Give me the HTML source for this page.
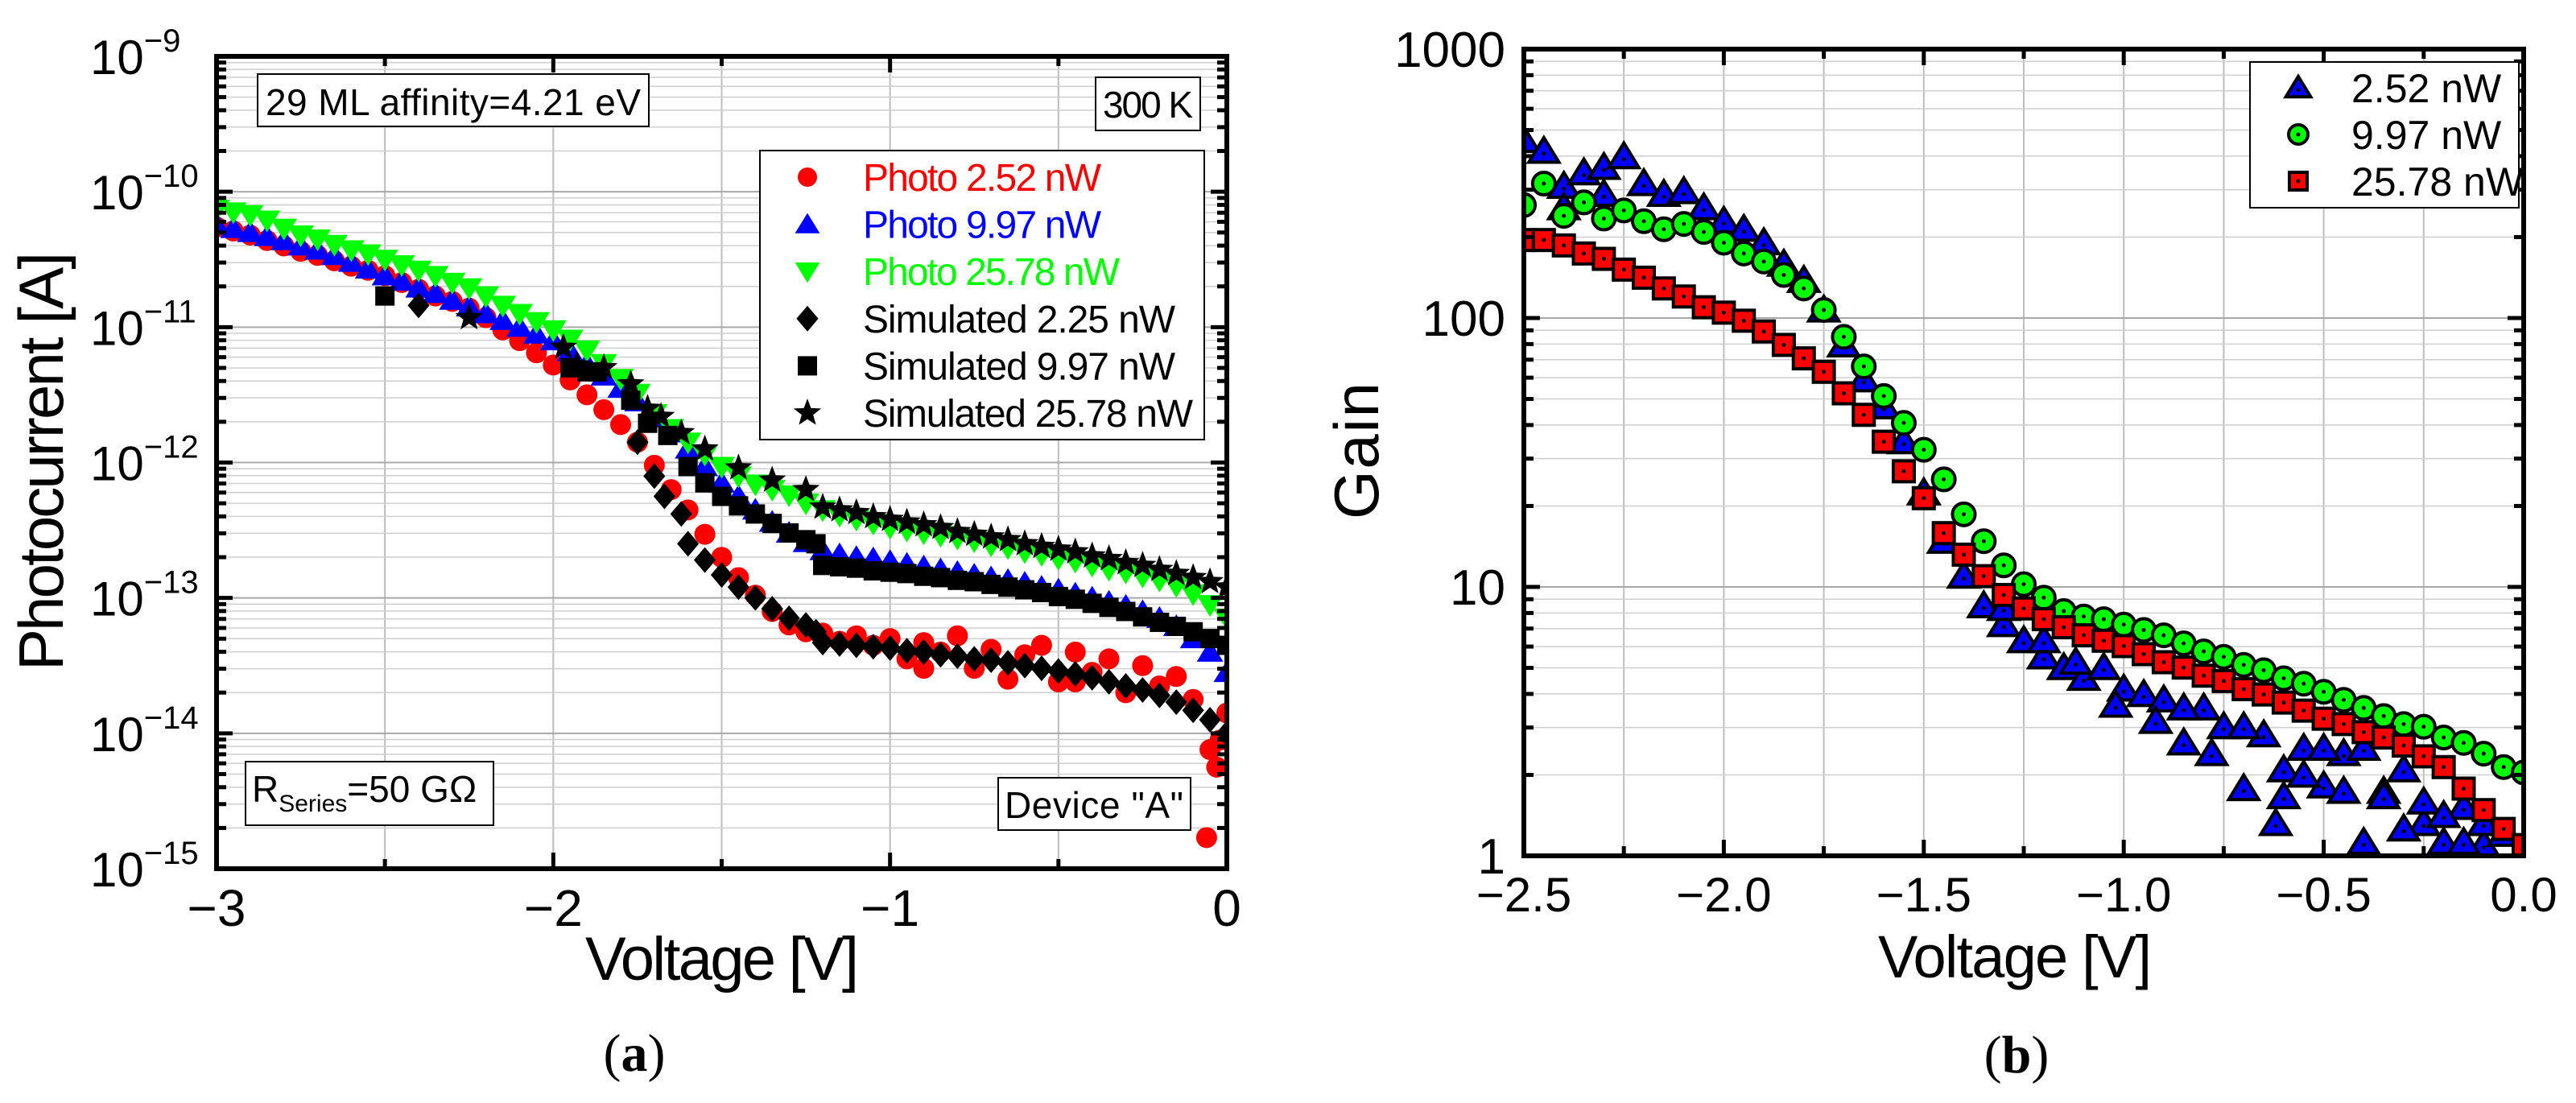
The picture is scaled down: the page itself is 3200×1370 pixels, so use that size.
<!DOCTYPE html>
<html><head><meta charset="utf-8"><style>
html,body{margin:0;padding:0;background:#fff;}
svg{display:block;font-family:"Liberation Sans",Arial,sans-serif;}
</style></head><body>
<svg id="fig" width="3200" height="1370" viewBox="0 0 3200 1370" xmlns="http://www.w3.org/2000/svg">
<defs>
<clipPath id="clipA"><rect x="269" y="70" width="1255" height="1009"/></clipPath>
<clipPath id="clipB"><rect x="1893" y="61" width="1242" height="1002"/></clipPath>
</defs>
<g id="gridA"></g>
<g id="gridB"></g>
<g id="marksA" clip-path="url(#clipA)"></g>
<g id="marksB" clip-path="url(#clipB)"></g>
<g id="axesA"></g>
<g id="axesB"></g>

<g>
<rect x="320" y="92" width="486" height="65" fill="#fff" stroke="#000" stroke-width="2"/>
<text x="330" y="143" font-size="46" textLength="466">29 ML affinity=4.21 eV</text></g>
<g>
<rect x="1361" y="96" width="130" height="66" fill="#fff" stroke="#000" stroke-width="2"/>
<text x="1370" y="146" font-size="46" textLength="112">300 K</text></g>
<g>
<rect x="305" y="946" width="308" height="79" fill="#fff" stroke="#000" stroke-width="2"/>
<text x="313" y="996" font-size="46">R<tspan font-size="30" dy="12">Series</tspan><tspan dy="-12">=50 GΩ</tspan></text></g>
<g>
<rect x="1240" y="966" width="239" height="65" fill="#fff" stroke="#000" stroke-width="2"/>
<text x="1248" y="1016" font-size="46" textLength="222">Device "A"</text></g>
<g id="legendA">
<rect x="944" y="187" width="552" height="359" fill="#fff" stroke="#000" stroke-width="2"/>
</g>
<g id="legendB">
<rect x="2795" y="77" width="334" height="181" fill="#fff" stroke="#000" stroke-width="2"/>
</g>

<text x="0" y="0" font-size="78" text-anchor="middle" transform="translate(78,573) rotate(-90)" textLength="520">Photocurrent [A]</text>
<text x="897" y="1217" font-size="76" text-anchor="middle" textLength="340">Voltage [V]</text>
<text x="788" y="1330" font-size="66" text-anchor="middle" font-family="Liberation Serif, serif">(<tspan font-weight="bold">a</tspan>)</text>

<text x="0" y="0" font-size="78" text-anchor="middle" transform="translate(1712,560) rotate(-90)" textLength="170">Gain</text>
<text x="2503" y="1214" font-size="74" text-anchor="middle" textLength="340">Voltage [V]</text>
<text x="2505" y="1332" font-size="66" text-anchor="middle" font-family="Liberation Serif, serif">(<tspan font-weight="bold">b</tspan>)</text>
</svg>
<script>
const voltA = [-3,-2.95,-2.9,-2.85,-2.8,-2.75,-2.7,-2.65,-2.6,-2.55,-2.5,-2.45,-2.4,-2.35,-2.3,-2.25,-2.2,-2.15,-2.1,-2.05,-2,-1.95,-1.9,-1.85,-1.8,-1.75,-1.7,-1.65,-1.6,-1.55,-1.5,-1.45,-1.4,-1.35,-1.3,-1.25,-1.2,-1.15,-1.1,-1.05,-1,-0.95,-0.9,-0.85,-0.8,-0.75,-0.7,-0.65,-0.6,-0.55,-0.5,-0.45,-0.4,-0.35,-0.3,-0.25,-0.2,-0.15,-0.1,-0.05,0];
const photo2578Log = [-10.13,-10.15,-10.17,-10.21,-10.27,-10.32,-10.35,-10.39,-10.43,-10.46,-10.50,-10.54,-10.58,-10.62,-10.67,-10.71,-10.77,-10.84,-10.90,-10.96,-11.02,-11.09,-11.17,-11.27,-11.38,-11.49,-11.64,-11.75,-11.85,-11.94,-12.03,-12.10,-12.16,-12.20,-12.24,-12.30,-12.35,-12.39,-12.42,-12.45,-12.48,-12.50,-12.52,-12.54,-12.56,-12.58,-12.61,-12.63,-12.66,-12.68,-12.71,-12.73,-12.76,-12.79,-12.81,-12.84,-12.87,-12.91,-12.97,-13.05,-13.15];
const photo997Log = [-10.24,-10.27,-10.30,-10.33,-10.36,-10.40,-10.43,-10.47,-10.52,-10.57,-10.62,-10.66,-10.71,-10.75,-10.80,-10.85,-10.90,-10.95,-11.00,-11.05,-11.10,-11.18,-11.27,-11.36,-11.45,-11.55,-11.67,-11.78,-11.90,-12.03,-12.15,-12.25,-12.35,-12.44,-12.52,-12.59,-12.65,-12.68,-12.70,-12.71,-12.73,-12.75,-12.77,-12.79,-12.81,-12.83,-12.85,-12.87,-12.89,-12.92,-12.94,-12.97,-13.00,-13.03,-13.06,-13.10,-13.15,-13.21,-13.30,-13.40,-13.55];
const photo252Log = [-10.26,-10.29,-10.32,-10.36,-10.40,-10.44,-10.47,-10.51,-10.55,-10.58,-10.62,-10.67,-10.72,-10.77,-10.81,-10.86,-10.93,-11.02,-11.10,-11.19,-11.28,-11.39,-11.50,-11.61,-11.72,-11.85,-12.02,-12.20,-12.35,-12.53,-12.70,-12.85,-12.98,-13.10,-13.20,-13.25,-13.26,-13.32,-13.28,-13.35,-13.30,-13.45,-13.33,-13.40,-13.28,-13.52,-13.38,-13.60,-13.42,-13.35,-13.62,-13.40,-13.55,-13.45,-13.70,-13.50,-13.65,-13.58,-13.75,-14.12,-13.85];
const photo252ExtraV = [-0.06,-0.03,-0.02,-0.45,-0.9];
const photo252ExtraLog = [-14.77,-14.25,-14.05,-13.62,-13.52];
const sim2225V = [-2.4,-1.75,-1.7,-1.67,-1.62,-1.6,-1.55,-1.5,-1.45,-1.4,-1.35,-1.3,-1.25,-1.22,-1.2,-1.15,-1.1,-1.05,-1,-0.95,-0.9,-0.85,-0.8,-0.75,-0.7,-0.65,-0.6,-0.55,-0.5,-0.45,-0.4,-0.35,-0.3,-0.25,-0.2,-0.15,-0.1,-0.05,0];
const sim2225Log = [-10.84,-11.85,-12.10,-12.25,-12.38,-12.60,-12.72,-12.83,-12.92,-13.00,-13.08,-13.15,-13.20,-13.25,-13.33,-13.34,-13.35,-13.36,-13.37,-13.39,-13.40,-13.42,-13.43,-13.45,-13.46,-13.48,-13.50,-13.52,-13.54,-13.56,-13.59,-13.62,-13.65,-13.68,-13.72,-13.77,-13.83,-13.90,-14.00];
const sim997V = [-2.5,-1.95,-1.9,-1.87,-1.77,-1.72,-1.66,-1.6,-1.55,-1.5,-1.45,-1.4,-1.35,-1.3,-1.25,-1.22,-1.2,-1.15,-1.1,-1.05,-1,-0.95,-0.9,-0.85,-0.8,-0.75,-0.7,-0.65,-0.6,-0.55,-0.5,-0.45,-0.4,-0.35,-0.3,-0.25,-0.2,-0.15,-0.1,-0.05,0];
const sim997Log = [-10.77,-11.30,-11.33,-11.33,-11.54,-11.71,-11.80,-12.03,-12.15,-12.25,-12.32,-12.38,-12.45,-12.52,-12.57,-12.60,-12.76,-12.77,-12.78,-12.80,-12.81,-12.82,-12.84,-12.85,-12.87,-12.88,-12.90,-12.92,-12.94,-12.96,-12.99,-13.01,-13.04,-13.07,-13.10,-13.14,-13.18,-13.21,-13.25,-13.30,-13.35];
const sim2578V = [-2.25,-1.97,-1.93,-1.85,-1.77,-1.72,-1.68,-1.62,-1.55,-1.45,-1.35,-1.25,-1.2,-1.15,-1.1,-1.05,-1,-0.95,-0.9,-0.85,-0.8,-0.75,-0.7,-0.65,-0.6,-0.55,-0.5,-0.45,-0.4,-0.35,-0.3,-0.25,-0.2,-0.15,-0.1,-0.05,0];
const sim2578Log = [-10.93,-11.15,-11.28,-11.30,-11.42,-11.60,-11.66,-11.78,-11.90,-12.04,-12.13,-12.20,-12.33,-12.35,-12.37,-12.40,-12.42,-12.44,-12.46,-12.48,-12.51,-12.53,-12.55,-12.57,-12.60,-12.62,-12.64,-12.66,-12.69,-12.71,-12.74,-12.76,-12.79,-12.82,-12.85,-12.88,-12.92];
const xTicksA = [-3,-2,-1,0];
const xTickLabelsA = ["\u22123","\u22122","\u22121","0"];
const yDecadesA = [-15,-14,-13,-12,-11,-10,-9];
const legendLabelsA = ["Photo 2.52 nW","Photo 9.97 nW","Photo 25.78 nW","Simulated 2.25 nW","Simulated 9.97 nW","Simulated 25.78 nW"];

const voltB = [-2.5,-2.45,-2.4,-2.35,-2.3,-2.25,-2.2,-2.15,-2.1,-2.05,-2,-1.95,-1.9,-1.85,-1.8,-1.75,-1.7,-1.65,-1.6,-1.55,-1.5,-1.45,-1.4,-1.35,-1.3,-1.25,-1.2,-1.15,-1.1,-1.05,-1,-0.95,-0.9,-0.85,-0.8,-0.75,-0.7,-0.65,-0.6,-0.55,-0.5,-0.45,-0.4,-0.35,-0.3,-0.25,-0.2,-0.15,-0.1,-0.05,0];
const gain252Log = [2.66,2.62,2.49,2.54,2.56,2.60,2.50,2.46,2.47,2.41,2.36,2.33,2.28,2.20,2.14,2.03,1.90,1.77,1.67,1.54,1.35,1.17,1.04,0.93,0.86,0.80,0.74,0.70,0.66,0.70,0.62,0.60,0.58,0.42,0.55,0.48,0.25,0.45,0.32,0.40,0.26,0.38,0.05,0.24,0.32,0.12,0.05,0.18,0.04,0.08,0.02];
const gain252ExtraV = [-2.4,-2.3,-1.3,-1.2,-0.85,-0.7,-0.62,-0.6,-0.5,-0.45,-0.4,-0.35,-0.3,-0.25,-0.15,-1.02,-0.78,-1.12,-0.92,-0.55,-0.2,-0.1];
const gain252ExtraLog = [2.41,2.46,0.92,0.80,0.55,0.48,0.12,0.22,0.40,0.24,0.40,0.22,0.10,0.20,0.05,0.56,0.38,0.72,0.50,0.30,0.15,0.12];
const gain997Log = [2.42,2.50,2.38,2.43,2.37,2.40,2.36,2.33,2.35,2.32,2.28,2.24,2.21,2.16,2.11,2.03,1.93,1.82,1.71,1.61,1.51,1.40,1.27,1.17,1.08,1.01,0.96,0.91,0.89,0.88,0.86,0.84,0.82,0.79,0.76,0.74,0.71,0.69,0.66,0.64,0.61,0.58,0.55,0.52,0.49,0.48,0.44,0.42,0.38,0.33,0.31];
const gain2578Log = [2.29,2.29,2.27,2.24,2.22,2.18,2.15,2.11,2.08,2.04,2.02,1.99,1.95,1.90,1.85,1.80,1.72,1.64,1.54,1.43,1.33,1.20,1.12,1.04,0.97,0.92,0.88,0.85,0.82,0.80,0.78,0.75,0.72,0.70,0.67,0.65,0.62,0.60,0.57,0.54,0.51,0.49,0.46,0.44,0.41,0.37,0.33,0.25,0.17,0.10,0.04];
const xTicksB = [-2.5,-2.0,-1.5,-1.0,-0.5,0.0];
const xTickLabelsB = ["\u22122.5","\u22122.0","\u22121.5","\u22121.0","\u22120.5","0.0"];
const yDecadesB = [0,1,2,3];
const yTickLabelsB = ["1","10","100","1000"];
const legendLabelsB = ["2.52 nW","9.97 nW","25.78 nW"];

const NS = "http://www.w3.org/2000/svg";
function mk(tag, attrs, parent){ const e=document.createElementNS(NS,tag); for(const k in attrs) e.setAttribute(k,attrs[k]); parent.appendChild(e); return e; }

const A = {x0:269,x1:1524,y0:70,y1:1079,vmin:-3,vmax:0,lmin:-15,lmax:-9};
const B = {x0:1893,x1:3135,y0:61,y1:1063,vmin:-2.5,vmax:0,lmin:0,lmax:3};
function xs(P,v){ return P.x0+(v-P.vmin)/(P.vmax-P.vmin)*(P.x1-P.x0); }
function ys(P,l){ return P.y1-(l-P.lmin)/(P.lmax-P.lmin)*(P.y1-P.y0); }

function grid(P,g,xminor){
  for(let v=P.vmin; v<=P.vmax+1e-9; v+=xminor){
    const x=xs(P,v);
    mk('line',{x1:x,x2:x,y1:P.y0,y2:P.y1,stroke:'#bdbdbd','stroke-width':2},g);
  }
  for(let d=P.lmin; d<P.lmax; d++){
    for(let m=1;m<10;m++){
      const y=ys(P,d+Math.log10(m));
      mk('line',{x1:P.x0,x2:P.x1,y1:y,y2:y,stroke:m===1?'#a8a8a8':'#cfcfcf','stroke-width':m===1?2:1.5},g);
    }
  }
}
function frame(P,g,xminor,xmajorStep){
  for(let v=P.vmin; v<=P.vmax+1e-9; v+=xminor){
    const x=xs(P,v); const maj=Math.abs(Math.round((v-P.vmin)/xmajorStep)*xmajorStep-(v-P.vmin))<1e-6;
    const L=maj?20:12;
    mk('line',{x1:x,x2:x,y1:P.y1,y2:P.y1-L,stroke:'#000','stroke-width':5},g);
    mk('line',{x1:x,x2:x,y1:P.y0,y2:P.y0+L,stroke:'#000','stroke-width':5},g);
  }
  for(let d=P.lmin; d<=P.lmax; d++){
    for(let m=1;m<10;m++){
      if(d===P.lmax && m>1) break;
      const y=ys(P,d+Math.log10(m)); const L=m===1?20:12;
      mk('line',{x1:P.x0,x2:P.x0+L,y1:y,y2:y,stroke:'#000','stroke-width':5},g);
      mk('line',{x1:P.x1,x2:P.x1-L,y1:y,y2:y,stroke:'#000','stroke-width':5},g);
    }
  }
  mk('rect',{x:P.x0,y:P.y0,width:P.x1-P.x0,height:P.y1-P.y0,fill:'none',stroke:'#000','stroke-width':6},g);
}

function marker(g,type,x,y,s,fill,stroke,sw){
  let e;
  const st = stroke?{stroke:stroke,'stroke-width':sw}:{};
  if(type==='circle') e=mk('circle',Object.assign({cx:x,cy:y,r:s,fill:fill},st),g);
  else if(type==='tri') e=mk('polygon',Object.assign({points:`${x},${y-s} ${x+s*1.1},${y+s*0.8} ${x-s*1.1},${y+s*0.8}`,fill:fill},st),g);
  else if(type==='dtri') e=mk('polygon',Object.assign({points:`${x},${y+s} ${x+s*1.1},${y-s*0.8} ${x-s*1.1},${y-s*0.8}`,fill:fill},st),g);
  else if(type==='square') e=mk('rect',Object.assign({x:x-s,y:y-s,width:2*s,height:2*s,fill:fill},st),g);
  else if(type==='diamond') e=mk('polygon',Object.assign({points:`${x},${y-s} ${x+s*0.85},${y} ${x},${y+s} ${x-s*0.85},${y}`,fill:fill},st),g);
  else if(type==='star'){
    let p=[]; for(let i=0;i<10;i++){ const r=i%2?s*0.42:s; const a=-Math.PI/2+i*Math.PI/5; p.push((x+r*Math.cos(a)).toFixed(1)+','+(y+r*Math.sin(a)).toFixed(1)); }
    e=mk('polygon',Object.assign({points:p.join(' '),fill:fill},st),g);
  }
  return e;
}
function series(P,g,name,vx,ly,type,s,fill,stroke,sw,dot){
  const sg=mk('g',{},g);
  
  
  for(let i=0;i<vx.length;i++){
    const x=xs(P,vx[i]), y=ys(P,ly[i]);
    const m=marker(sg,type,x,y,s,fill,stroke,sw);
    
    
    if(dot) mk('circle',{cx:x,cy:type==='tri'?y+3:y,r:2.5,fill:'#000'},sg);
  }
}

grid(A,document.getElementById('gridA'),0.5);
const mA=document.getElementById('marksA');
series(A,mA,'photo-2-52-series',voltA,photo252Log,'circle',13,'#ff0000');
series(A,mA,'photo-2-52-extra',photo252ExtraV,photo252ExtraLog,'circle',13,'#ff0000');
series(A,mA,'photo-9-97-series',voltA,photo997Log,'tri',15,'#0000ff');
series(A,mA,'photo-25-78-series',voltA,photo2578Log,'dtri',15,'#00ff00');
series(A,mA,'sim-2-25-series',sim2225V,sim2225Log,'diamond',16,'#000');
series(A,mA,'sim-9-97-series',sim997V,sim997Log,'square',12,'#000');
series(A,mA,'sim-25-78-series',sim2578V,sim2578Log,'star',18,'#000');
const axA=document.getElementById('axesA');
frame(A,axA,0.5,1);
xTicksA.forEach((v,i)=>{
  const t=mk('text',{x:xs(A,v),y:1150,'font-size':64,'text-anchor':'middle'},axA); t.textContent=xTickLabelsA[i];
  
  
});
yDecadesA.forEach(d=>{
  const y=ys(A,d);
  const t=mk('text',{x:112,y:y+22,'font-size':60},axA);
  
  
  t.textContent='10';
  const s=mk('tspan',{'font-size':40,dy:-28},t); s.textContent='\u2212'+Math.abs(d);
});
const lgA=document.getElementById('legendA');
const lgTypes=['circle','tri','dtri','diamond','square','star'];
const lgFill=['#ff0000','#0000ff','#00ff00','#000','#000','#000'];
const lgSize=[12,14,14,16,12,18];
legendLabelsA.forEach((lab,i)=>{
  const y=220+i*58.6;
  const e=mk('g',{},lgA);
  
  
  marker(e,lgTypes[i],1003,y,lgSize[i],lgFill[i]);
  const t=mk('text',{x:1072,y:y+17,'font-size':48,fill:i<3?lgFill[i]:'#000',textLength:(lab.length*22.8).toFixed(0)},e);
  t.textContent=lab;
});

grid(B,document.getElementById('gridB'),0.25);
const mB=document.getElementById('marksB');
series(B,mB,'gain-2-52-series',voltB,gain252Log,'tri',17,'#0000ff','#000',4,true);
series(B,mB,'gain-2-52-extra',gain252ExtraV,gain252ExtraLog,'tri',17,'#0000ff','#000',4,true);
series(B,mB,'gain-9-97-series',voltB,gain997Log,'circle',14,'#00ff00','#000',4,true);
series(B,mB,'gain-25-78-series',voltB,gain2578Log,'square',13,'#ff0000','#000',4,true);
const axB=document.getElementById('axesB');
frame(B,axB,0.25,0.5);
xTicksB.forEach((v,i)=>{
  const t=mk('text',{x:xs(B,v),y:1132,'font-size':60,'text-anchor':'middle'},axB); t.textContent=xTickLabelsB[i];
  
  
});
yDecadesB.forEach((d,i)=>{
  const t=mk('text',{x:1870,y:ys(B,d)+22,'font-size':62,'text-anchor':'end'},axB); t.textContent=yTickLabelsB[i];
  
  
});
const lgB=document.getElementById('legendB');
const lbT=['tri','circle','square'], lbF=['#0000ff','#00ff00','#ff0000'], lbS=[14,12,11];
legendLabelsB.forEach((lab,i)=>{
  const y=109+i*58;
  const e=mk('g',{},lgB);
  
  
  marker(e,lbT[i],2855,y,lbS[i],lbF[i],'#000',4);
  mk('circle',{cx:2855,cy:lbT[i]==='tri'?y+3:y,r:2.5,fill:'#000'},e);
  const t=mk('text',{x:2921,y:y+18,'font-size':50},e); t.textContent=lab;
});
</script>
</body></html>
